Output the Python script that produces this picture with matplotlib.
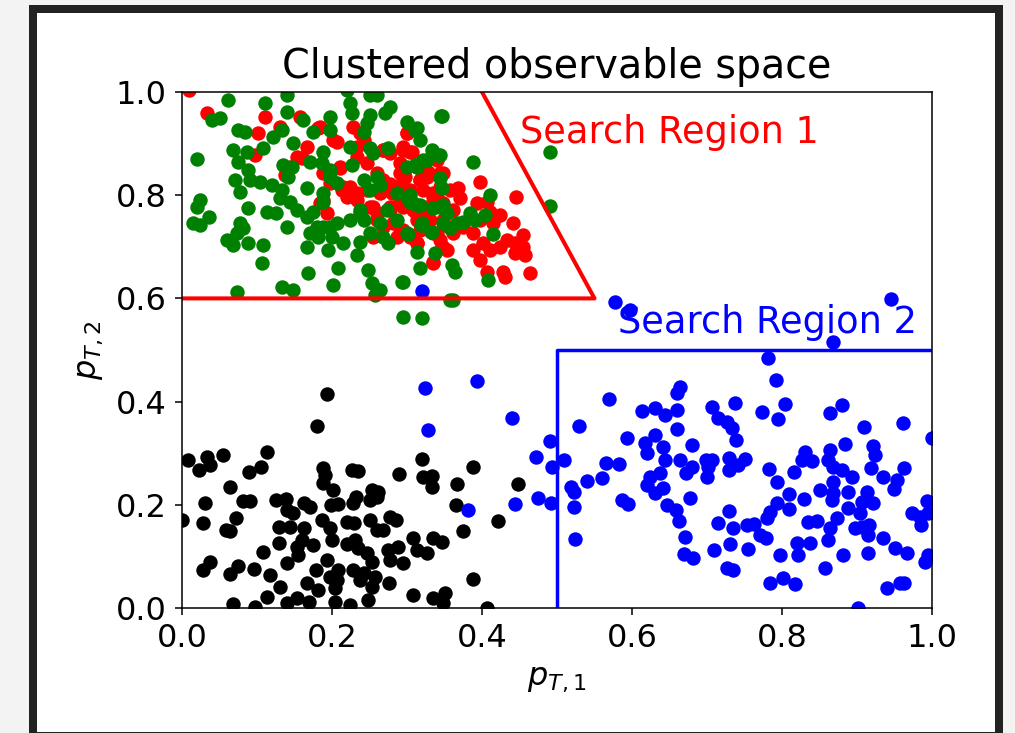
import matplotlib
matplotlib.use("Agg")
import matplotlib.pyplot as plt
import numpy as np
from matplotlib.patches import Rectangle

# points of each cluster, (p_T1, p_T2)
black_pts = [
    (0.0, 0.17), (0.008, 0.287), (0.023, 0.267), (0.033, 0.293), (0.037, 0.277), (0.055, 0.297),
    (0.064, 0.234), (0.031, 0.204), (0.028, 0.165), (0.072, 0.175), (0.059, 0.151), (0.064, 0.149),
    (0.028, 0.074), (0.037, 0.089), (0.064, 0.066), (0.075, 0.081), (0.068, 0.008), (0.089, 0.263),
    (0.105, 0.273), (0.113, 0.302), (0.081, 0.207), (0.091, 0.207), (0.096, 0.076), (0.097, 0.002),
    (0.113, 0.021), (0.108, 0.109), (0.117, 0.064), (0.125, 0.209), (0.129, 0.157), (0.129, 0.126),
    (0.139, 0.211), (0.14, 0.19), (0.144, 0.157), (0.148, 0.184), (0.14, 0.087), (0.131, 0.041),
    (0.14, 0.01), (0.153, 0.019), (0.153, 0.118), (0.162, 0.203), (0.171, 0.196), (0.163, 0.155),
    (0.16, 0.132), (0.155, 0.103), (0.167, 0.048), (0.169, 0.012), (0.175, 0.122), (0.179, 0.074),
    (0.18, 0.353), (0.181, 0.035), (0.187, 0.171), (0.193, 0.415), (0.188, 0.271), (0.191, 0.258),
    (0.188, 0.242), (0.201, 0.229), (0.199, 0.2), (0.208, 0.202), (0.197, 0.155), (0.2, 0.132),
    (0.193, 0.093), (0.197, 0.06), (0.207, 0.054), (0.204, 0.038), (0.204, 0.012), (0.208, 0.074),
    (0.22, 0.125), (0.22, 0.167), (0.224, 0.006), (0.227, 0.268), (0.235, 0.266), (0.228, 0.203),
    (0.232, 0.216), (0.229, 0.165), (0.231, 0.132), (0.235, 0.116), (0.228, 0.074), (0.237, 0.054),
    (0.242, 0.067), (0.248, 0.015), (0.246, 0.106), (0.251, 0.209), (0.253, 0.229), (0.261, 0.225),
    (0.26, 0.216), (0.251, 0.171), (0.26, 0.151), (0.268, 0.151), (0.253, 0.089), (0.257, 0.06),
    (0.253, 0.041), (0.277, 0.176), (0.285, 0.171), (0.275, 0.112), (0.277, 0.093), (0.276, 0.048),
    (0.288, 0.118), (0.295, 0.087), (0.289, 0.26), (0.308, 0.136), (0.313, 0.112), (0.308, 0.025),
    (0.32, 0.289), (0.321, 0.254), (0.333, 0.256), (0.333, 0.235), (0.326, 0.106), (0.335, 0.136),
    (0.347, 0.128), (0.335, 0.019), (0.351, 0.029), (0.348, 0.01), (0.367, 0.24), (0.365, 0.2),
    (0.375, 0.149), (0.388, 0.273), (0.388, 0.056), (0.407, 0.0), (0.421, 0.169), (0.448, 0.24),
]

blue_pts = [
    (0.577, 0.593), (0.945, 0.599), (0.868, 0.516), (0.781, 0.485), (0.792, 0.442), (0.804, 0.395),
    (0.773, 0.38), (0.795, 0.366), (0.569, 0.405), (0.44, 0.368), (0.664, 0.428), (0.66, 0.416),
    (0.613, 0.382), (0.631, 0.388), (0.644, 0.374), (0.66, 0.384), (0.66, 0.347), (0.707, 0.39),
    (0.715, 0.368), (0.726, 0.36), (0.733, 0.349), (0.737, 0.397), (0.739, 0.326), (0.864, 0.378),
    (0.88, 0.393), (0.909, 0.351), (0.961, 0.358), (1.0, 0.329), (0.529, 0.353), (0.491, 0.324),
    (0.472, 0.293), (0.493, 0.274), (0.509, 0.287), (0.444, 0.201), (0.474, 0.213), (0.492, 0.203),
    (0.519, 0.234), (0.523, 0.225), (0.523, 0.196), (0.524, 0.134), (0.54, 0.246), (0.56, 0.252),
    (0.565, 0.281), (0.583, 0.279), (0.593, 0.329), (0.587, 0.209), (0.595, 0.202), (0.617, 0.32),
    (0.631, 0.335), (0.62, 0.3), (0.641, 0.312), (0.644, 0.287), (0.637, 0.262), (0.624, 0.254),
    (0.62, 0.238), (0.631, 0.223), (0.641, 0.233), (0.647, 0.2), (0.659, 0.19), (0.663, 0.169),
    (0.671, 0.138), (0.669, 0.105), (0.681, 0.097), (0.664, 0.287), (0.68, 0.316), (0.672, 0.262),
    (0.68, 0.273), (0.677, 0.213), (0.699, 0.287), (0.707, 0.287), (0.7, 0.254), (0.701, 0.273),
    (0.709, 0.112), (0.715, 0.165), (0.729, 0.291), (0.729, 0.267), (0.741, 0.277), (0.751, 0.289),
    (0.729, 0.188), (0.735, 0.155), (0.731, 0.124), (0.726, 0.078), (0.735, 0.074), (0.755, 0.114),
    (0.753, 0.161), (0.763, 0.163), (0.771, 0.141), (0.779, 0.136), (0.783, 0.269), (0.793, 0.244),
    (0.78, 0.174), (0.784, 0.186), (0.793, 0.203), (0.797, 0.103), (0.784, 0.048), (0.801, 0.058),
    (0.817, 0.046), (0.809, 0.221), (0.809, 0.192), (0.816, 0.264), (0.826, 0.287), (0.831, 0.302),
    (0.84, 0.285), (0.829, 0.211), (0.835, 0.167), (0.847, 0.169), (0.82, 0.126), (0.821, 0.103),
    (0.837, 0.126), (0.851, 0.229), (0.857, 0.078), (0.861, 0.132), (0.864, 0.155), (0.873, 0.174),
    (0.864, 0.306), (0.861, 0.287), (0.868, 0.273), (0.884, 0.318), (0.88, 0.267), (0.893, 0.254),
    (0.868, 0.244), (0.868, 0.223), (0.867, 0.209), (0.888, 0.225), (0.888, 0.194), (0.881, 0.103),
    (0.901, 0.0), (0.913, 0.225), (0.921, 0.203), (0.907, 0.205), (0.904, 0.184), (0.907, 0.157),
    (0.897, 0.155), (0.916, 0.161), (0.915, 0.141), (0.915, 0.107), (0.921, 0.314), (0.924, 0.297),
    (0.919, 0.271), (0.935, 0.254), (0.935, 0.136), (0.951, 0.116), (0.967, 0.107), (0.94, 0.039),
    (0.957, 0.048), (0.963, 0.048), (0.949, 0.231), (0.953, 0.248), (0.963, 0.271), (0.973, 0.184),
    (0.985, 0.161), (0.984, 0.176), (0.993, 0.207), (0.995, 0.184), (0.991, 0.089), (0.995, 0.103),
    (0.393, 0.44), (0.324, 0.426), (0.328, 0.345), (0.381, 0.19), (0.32, 0.614), (0.597, 0.578),
]

red_pts = [
    (0.009, 1.004), (0.033, 0.959), (0.111, 0.952), (0.101, 0.921), (0.097, 0.878), (0.131, 0.932),
    (0.157, 0.952), (0.181, 0.93), (0.16, 0.872), (0.144, 0.855), (0.137, 0.839), (0.207, 0.903),
    (0.188, 0.843), (0.211, 0.853), (0.197, 0.824), (0.213, 0.81), (0.228, 0.932), (0.237, 0.921),
    (0.233, 0.894), (0.246, 0.862), (0.224, 0.816), (0.22, 0.797), (0.184, 0.785), (0.193, 0.765),
    (0.268, 0.888), (0.277, 0.882), (0.26, 0.843), (0.268, 0.829), (0.246, 0.81), (0.233, 0.791),
    (0.255, 0.777), (0.237, 0.765), (0.295, 0.888), (0.304, 0.884), (0.3, 0.921), (0.291, 0.862),
    (0.313, 0.855), (0.295, 0.829), (0.287, 0.816), (0.304, 0.81), (0.317, 0.829), (0.327, 0.835),
    (0.28, 0.804), (0.277, 0.777), (0.295, 0.777), (0.308, 0.771), (0.313, 0.752), (0.281, 0.746),
    (0.291, 0.727), (0.268, 0.738), (0.26, 0.765), (0.313, 0.707), (0.308, 0.719), (0.335, 0.669),
    (0.344, 0.713), (0.347, 0.7), (0.348, 0.752), (0.34, 0.797), (0.348, 0.843), (0.34, 0.868),
    (0.297, 0.835), (0.328, 0.845), (0.344, 0.816), (0.321, 0.758), (0.327, 0.777), (0.335, 0.804),
    (0.357, 0.81), (0.368, 0.814), (0.371, 0.795), (0.361, 0.771), (0.335, 0.727), (0.317, 0.733),
    (0.304, 0.719), (0.353, 0.694), (0.361, 0.727), (0.375, 0.738), (0.393, 0.785), (0.397, 0.826),
    (0.407, 0.787), (0.411, 0.767), (0.424, 0.762), (0.415, 0.746), (0.397, 0.752), (0.388, 0.727),
    (0.388, 0.694), (0.401, 0.707), (0.397, 0.674), (0.411, 0.694), (0.424, 0.7), (0.433, 0.713),
    (0.441, 0.746), (0.445, 0.797), (0.455, 0.723), (0.444, 0.707), (0.455, 0.7), (0.457, 0.684),
    (0.444, 0.688), (0.428, 0.651), (0.431, 0.642), (0.407, 0.651), (0.464, 0.649), (0.295, 0.893),
    (0.184, 0.932), (0.201, 0.907), (0.167, 0.893), (0.153, 0.874), (0.211, 0.855), (0.215, 0.816),
    (0.188, 0.791), (0.233, 0.874), (0.242, 0.907), (0.268, 0.888), (0.3, 0.921), (0.307, 0.884),
    (0.291, 0.843), (0.317, 0.829), (0.344, 0.843), (0.321, 0.81), (0.335, 0.797), (0.233, 0.804),
    (0.251, 0.777), (0.264, 0.804), (0.277, 0.822), (0.291, 0.791), (0.277, 0.771), (0.26, 0.752),
    (0.295, 0.733), (0.313, 0.707), (0.34, 0.727), (0.348, 0.7), (0.335, 0.671), (0.313, 0.762),
    (0.331, 0.752), (0.348, 0.785), (0.255, 0.719), (0.287, 0.719),
]

green_pts = [
    (0.061, 0.984), (0.111, 0.979), (0.14, 0.994), (0.14, 0.961), (0.04, 0.946), (0.051, 0.95),
    (0.02, 0.87), (0.075, 0.926), (0.084, 0.922), (0.068, 0.888), (0.075, 0.865), (0.087, 0.884),
    (0.108, 0.891), (0.121, 0.913), (0.133, 0.926), (0.148, 0.901), (0.161, 0.946), (0.175, 0.922),
    (0.197, 0.952), (0.197, 0.926), (0.224, 0.979), (0.227, 0.959), (0.22, 1.004), (0.251, 0.994),
    (0.26, 0.994), (0.251, 0.955), (0.246, 0.94), (0.242, 0.922), (0.277, 0.971), (0.271, 0.959),
    (0.3, 0.942), (0.313, 0.93), (0.317, 0.907), (0.347, 0.953), (0.333, 0.888), (0.344, 0.878),
    (0.321, 0.868), (0.313, 0.855), (0.3, 0.855), (0.275, 0.891), (0.251, 0.891), (0.255, 0.882),
    (0.224, 0.893), (0.227, 0.859), (0.188, 0.884), (0.171, 0.865), (0.187, 0.862), (0.197, 0.849),
    (0.197, 0.835), (0.135, 0.859), (0.147, 0.855), (0.141, 0.835), (0.071, 0.829), (0.077, 0.806),
    (0.088, 0.849), (0.091, 0.829), (0.104, 0.826), (0.12, 0.82), (0.133, 0.81), (0.131, 0.795),
    (0.144, 0.787), (0.167, 0.814), (0.188, 0.804), (0.188, 0.787), (0.207, 0.824), (0.242, 0.829),
    (0.26, 0.835), (0.264, 0.82), (0.251, 0.81), (0.287, 0.804), (0.304, 0.787), (0.3, 0.797),
    (0.313, 0.781), (0.335, 0.775), (0.344, 0.777), (0.344, 0.833), (0.347, 0.814), (0.02, 0.777),
    (0.024, 0.791), (0.015, 0.746), (0.024, 0.742), (0.036, 0.758), (0.06, 0.713), (0.068, 0.703),
    (0.073, 0.727), (0.081, 0.736), (0.088, 0.775), (0.077, 0.746), (0.088, 0.707), (0.108, 0.703),
    (0.107, 0.669), (0.113, 0.767), (0.125, 0.765), (0.14, 0.738), (0.153, 0.771), (0.167, 0.758),
    (0.175, 0.767), (0.18, 0.738), (0.188, 0.738), (0.171, 0.727), (0.167, 0.7), (0.181, 0.719),
    (0.197, 0.738), (0.207, 0.746), (0.2, 0.719), (0.195, 0.694), (0.215, 0.707), (0.224, 0.752),
    (0.237, 0.771), (0.242, 0.752), (0.233, 0.684), (0.237, 0.709), (0.251, 0.727), (0.264, 0.746),
    (0.273, 0.771), (0.268, 0.719), (0.275, 0.707), (0.287, 0.752), (0.3, 0.727), (0.313, 0.69),
    (0.32, 0.746), (0.333, 0.729), (0.337, 0.688), (0.317, 0.659), (0.348, 0.746), (0.168, 0.649),
    (0.201, 0.626), (0.208, 0.659), (0.248, 0.655), (0.253, 0.63), (0.264, 0.616), (0.293, 0.632),
    (0.073, 0.612), (0.133, 0.622), (0.148, 0.616), (0.357, 0.597), (0.311, 0.926), (0.345, 0.953),
    (0.341, 0.878), (0.327, 0.868), (0.311, 0.859), (0.388, 0.864), (0.491, 0.884), (0.491, 0.779),
    (0.304, 0.8), (0.308, 0.785), (0.317, 0.781), (0.348, 0.781), (0.353, 0.765), (0.319, 0.742),
    (0.332, 0.729), (0.301, 0.725), (0.357, 0.736), (0.366, 0.746), (0.375, 0.748), (0.384, 0.765),
    (0.391, 0.752), (0.404, 0.762), (0.411, 0.8), (0.415, 0.725), (0.36, 0.665), (0.364, 0.651),
    (0.408, 0.636), (0.295, 0.632), (0.361, 0.597), (0.295, 0.564), (0.32, 0.562), (0.257, 0.607),
]

# search region outlines
region1_x = [0.0, 0.55, 0.4]
region1_y = [0.6, 0.6, 1.0]
region2_x = [0.5, 0.5, 1.0]
region2_y = [0.0, 0.5, 0.5]

fig = plt.figure(figsize=(10.15, 7.33), dpi=100, facecolor="#f3f3f3")

# dark frame around the white canvas
fig.patches.append(Rectangle((29 / 1015, 0), 974 / 1015, 728 / 733, transform=fig.transFigure,
                             facecolor="#222222", edgecolor="none", zorder=-2))
fig.patches.append(Rectangle((37 / 1015, 1 / 733), 958 / 1015, 719 / 733, transform=fig.transFigure,
                             facecolor="white", edgecolor="none", zorder=-1))

ax = fig.add_axes([182 / 1015, 125 / 733, 750 / 1015, 516 / 733])
ax.set_facecolor("white")

for pts, kolor in [(black_pts, "black"), (blue_pts, "blue"), (red_pts, "red"), (green_pts, "green")]:
    x, y = np.array(pts).T
    ax.scatter(x, y, s=108, color=kolor, linewidths=0)

ax.plot(region1_x, region1_y, color="red", linewidth=2.9)
ax.plot(region2_x, region2_y, color="blue", linewidth=2.5)

ax.text(0.451, 0.901, "Search Region 1", color="red", fontsize=26.5, va="baseline")
ax.text(0.581, 0.533, "Search Region 2", color="blue", fontsize=26.5, va="baseline")

ax.set_xlim(0, 1)
ax.set_ylim(0, 1)
ax.set_xticks([0.0, 0.2, 0.4, 0.6, 0.8, 1.0])
ax.set_yticks([0.0, 0.2, 0.4, 0.6, 0.8, 1.0])
ax.tick_params(labelsize=23, length=5, width=1.1, pad=6)
for sp in ax.spines.values():
    sp.set_linewidth(1.1)

ax.set_title("Clustered observable space", fontsize=28.5, pad=10)
ax.set_xlabel("$p_{T,1}$", fontsize=23, labelpad=6)
ax.set_ylabel("$p_{T,2}$", fontsize=23, labelpad=8)

fig.savefig("out.png", dpi=100, facecolor=fig.get_facecolor())
